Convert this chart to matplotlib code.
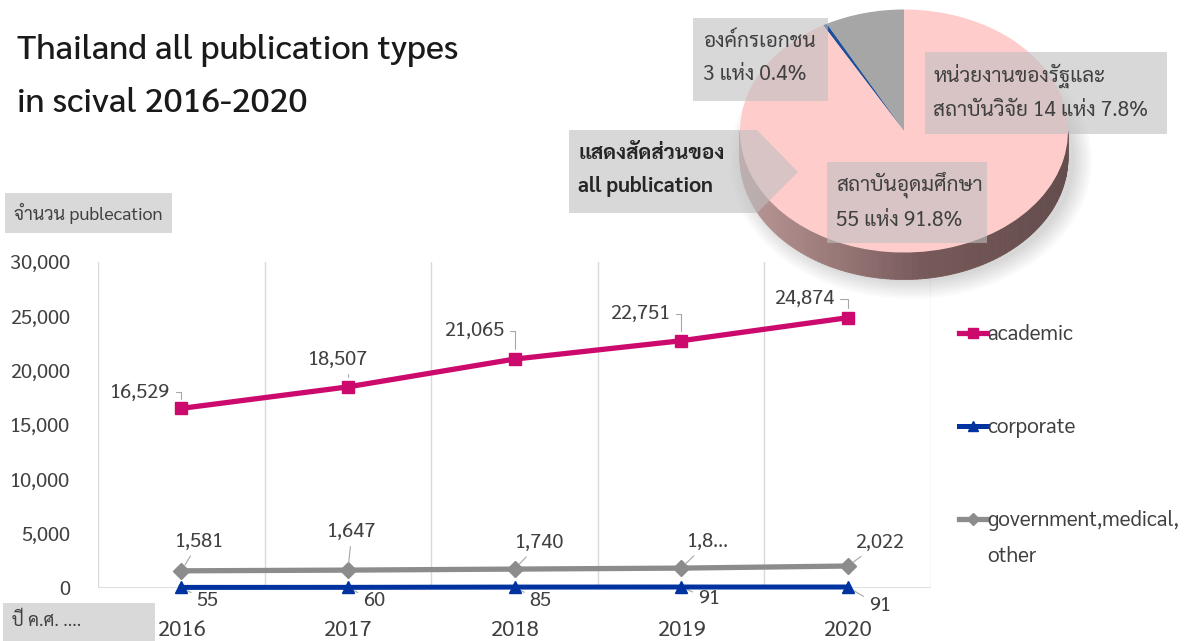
import matplotlib
matplotlib.use("Agg")
import matplotlib.pyplot as plt
from matplotlib import font_manager
from matplotlib.ft2font import FT2Font
from matplotlib.patches import Rectangle, Polygon, Ellipse
import numpy as np

# ---------------- data ----------------
years = ["2016", "2017", "2018", "2019", "2020"]
academic = [16529, 18507, 21065, 22751, 24874]
corporate = [55, 60, 85, 91, 91]
government = [1581, 1647, 1740, 1830, 2022]
government_labels = ["1,581", "1,647", "1,740", "1,8...", "2,022"]
series_names = ["academic", "corporate", "government,medical,\nother"]

pie_values = [7.8, 0.4, 91.8]
pie_labels = ["หน่วยงานของรัฐและ\nสถาบันวิจัย 14 แห่ง 7.8%",
              "องค์กรเอกชน\n3 แห่ง 0.4%",
              "สถาบันอุดมศึกษา\n55 แห่ง 91.8%"]
title_text = "Thailand all publication types\nin scival 2016-2020"
callout_text = "แสดงสัดส่วนของ\nall publication"
ylabel_text = "จำนวน publecation"
xlabel_text = "ปี ค.ศ. ...."

# ---------------- fonts ----------------
def fonts_with(cp_list):
    found = []
    for f in font_manager.fontManager.ttflist:
        try:
            cm = FT2Font(f.fname).get_charmap()
        except Exception:
            continue
        if all(cp in cm for cp in cp_list):
            found.append(f.name)
    return sorted(set(found))

thai = fonts_with([0x0E01, 0x0E2A, 0x0E48])
pref = ["Sarabun", "TH Sarabun New", "Niramit", "Anuphan"]
THAI = next((p for p in pref if p in thai), thai[0] if thai else "DejaVu Sans")
plt.rcParams["font.family"] = [THAI, "DejaVu Sans"]

W, H = 1188, 641
fig = plt.figure(figsize=(W / 100, H / 100), dpi=100)
TXT = "#404040"


def fx(x):
    return x / W


def fy(y):
    return 1 - y / H


def box(x0, y0, x1, y1, **kw):
    fig.patches.append(Rectangle((fx(x0), fy(y1)), fx(x1) - fx(x0), fy(y0) - fy(y1),
                                 transform=fig.transFigure, **kw))

# ---------------- line chart ----------------
ax = fig.add_axes([fx(98), fy(588), fx(931) - fx(98), fy(262) - fy(588)])
x = np.arange(len(years))
ax.set_xlim(-0.5, len(years) - 0.5)
ax.set_ylim(0, 30000)
for s in ax.spines.values():
    s.set_visible(False)
for b in np.arange(len(years) + 1) - 0.5:
    ax.axvline(b, color="#D9D9D9", lw=1, zorder=0)
ax.axhline(0, color="#D9D9D9", lw=1.2, zorder=0)
ax.set_yticks(np.arange(0, 30001, 5000))
ax.set_yticklabels([f"{v:,}" for v in range(0, 30001, 5000)])
ax.set_xticks(x)
ax.set_xticklabels(years)
ax.tick_params(axis="y", length=0, pad=20, labelsize=14.5, labelcolor=TXT)
ax.tick_params(axis="x", length=0, pad=23, labelsize=16, labelcolor=TXT)

c_ac, c_co, c_go = "#CC0A6E", "#0033A0", "#8C8C8C"
la, = ax.plot(x, academic, color=c_ac, lw=3.8, marker="s", ms=9, zorder=4, clip_on=False)
lc, = ax.plot(x, corporate, color=c_co, lw=3.6, marker="^", ms=9, zorder=4, clip_on=False)
lg, = ax.plot(x, government, color=c_go, lw=3.8, marker="D", ms=8, zorder=3, clip_on=False)

lab_kw = dict(fontsize=14.5, color=TXT, ha="center", va="center")
lead = dict(arrowstyle="-", color="#A6A6A6", lw=0.8)
for i, v in enumerate(academic):
    off = [(-41, 16), (-10, 27), (-40, 28), (-41, 27), (-43, 19)][i]
    ax.annotate(f"{v:,}", (x[i], v), xytext=off, textcoords="offset pixels",
                arrowprops=dict(connectionstyle="angle,angleA=0,angleB=90,rad=0",
                                shrinkA=2, shrinkB=7, **lead), **lab_kw)
for i, v in enumerate(government):
    off = [(18, 29), (4, 38), (25, 26), (27, 26), (32, 23)][i]
    ax.annotate(government_labels[i], (x[i], v), xytext=off, textcoords="offset pixels",
                arrowprops=dict(shrinkA=2, shrinkB=5, **lead), **lab_kw)
for i, v in enumerate(corporate):
    off = [(26, -14), (26, -14), (26, -14), (28, -12), (32, -19)][i]
    ax.annotate(f"{v:,}", (x[i], v), xytext=off, textcoords="offset pixels",
                arrowprops=dict(shrinkA=2, shrinkB=5, **lead), **lab_kw)

first_lines = [n.split("\n")[0] for n in series_names]
leg = ax.legend([la, lc, lg], first_lines, loc="upper left",
                bbox_to_anchor=(fx(949), fy(314)), bbox_transform=fig.transFigure,
                frameon=False, fontsize=15, handlelength=1.3, handletextpad=0.05,
                labelspacing=3.45, borderpad=0, markerscale=0.8)
for t in leg.get_texts():
    t.set_color(TXT)
# continuation line of the wrapped third legend label
fig.text(fx(987), fy(557), "\n".join(series_names[2].split("\n")[1:]), fontsize=15,
         color=TXT, ha="left", va="center")

# ---------------- pie ----------------
px0, px1, py0, py1 = 722, 1096, 0, 305
cx, cy, rx, ry = 904, 131, 164, 121.5
pax = fig.add_axes([fx(px0), fy(py1), fx(px1) - fx(px0), fy(py0) - fy(py1)])
depth = 27 / ry
# soft shadow
for k in range(8):
    pax.add_patch(Ellipse((0.04, -depth - 0.02), 2.0 + 0.03 * k, 2.0 + 0.04 * k,
                          facecolor="#000000", alpha=0.018, lw=0, zorder=0))
# side (visible lower half), gradient strips
th = np.linspace(np.pi, 2 * np.pi, 121)
c_left = np.array([0.74, 0.60, 0.60])
c_mid = np.array([0.47, 0.35, 0.35])
c_right = np.array([0.39, 0.30, 0.30])
for k in range(len(th) - 1):
    t0, t1 = th[k], th[k + 1]
    xs = [np.cos(t0), np.cos(t1), np.cos(t1), np.cos(t0)]
    ys = [np.sin(t0), np.sin(t1), np.sin(t1) - depth, np.sin(t0) - depth]
    f = (np.cos(t0) + 1) / 2
    col = c_left + (c_mid - c_left) * (f / 0.55) if f < 0.55 else \
        c_mid + (c_right - c_mid) * (f - 0.55) / 0.45
    pax.add_patch(Polygon(list(zip(xs, ys)), closed=True, facecolor=col,
                          edgecolor=col, lw=0.6, zorder=1))
pax.pie(pie_values, colors=["#A6A6A6", "#1F4E9A", "#FFCCCC"], startangle=90,
        counterclock=True, radius=1, wedgeprops=dict(lw=0, zorder=2))
pax.set_aspect("auto")
pax.set_xlim(-(cx - px0) / rx, (px1 - cx) / rx)
pax.set_ylim(-(py1 - cy) / ry, (cy - py0) / ry)
pax.axis("off")

# callout boxes
bkw = dict(facecolor="#BFBFBF", alpha=0.6, edgecolor="none", zorder=5)
box(693, 18, 828, 101, **bkw)
box(925, 52, 1167, 134, **bkw)
box(827, 162, 987, 243, **bkw)
fig.patches.append(Polygon([(fx(569), fy(130)), (fx(757), fy(130)), (fx(798), fy(172)),
                            (fx(757), fy(213)), (fx(569), fy(213))], closed=True,
                           transform=fig.transFigure, **bkw))
tkw = dict(fontsize=15, color=TXT, va="center", ha="left", linespacing=1.75, zorder=7)
fig.text(fx(703), fy(58), pie_labels[1], **tkw)
fig.text(fx(933), fy(92), pie_labels[0], **tkw)
fig.text(fx(836), fy(201), pie_labels[2], **tkw)
fig.text(fx(578), fy(170), callout_text, fontsize=15, color="#262626",
         fontweight="bold", va="center", ha="left", linespacing=1.75, zorder=7)

# title and axis label boxes
fig.text(fx(17), fy(77), title_text, fontsize=24.5, color="#1A1A1A", va="center",
         ha="left", linespacing=1.8, fontweight="medium")
box(5, 193, 172, 233, facecolor="#D9D9D9", edgecolor="none")
fig.text(fx(14), fy(213), ylabel_text, fontsize=13, color=TXT, va="center", ha="left",
         zorder=7)
box(3, 603, 155, 641, facecolor="#D9D9D9", edgecolor="none")
fig.text(fx(12), fy(621), xlabel_text, fontsize=13, color=TXT, va="center", ha="left",
         zorder=7)

fig.savefig("out.png", dpi=100)
